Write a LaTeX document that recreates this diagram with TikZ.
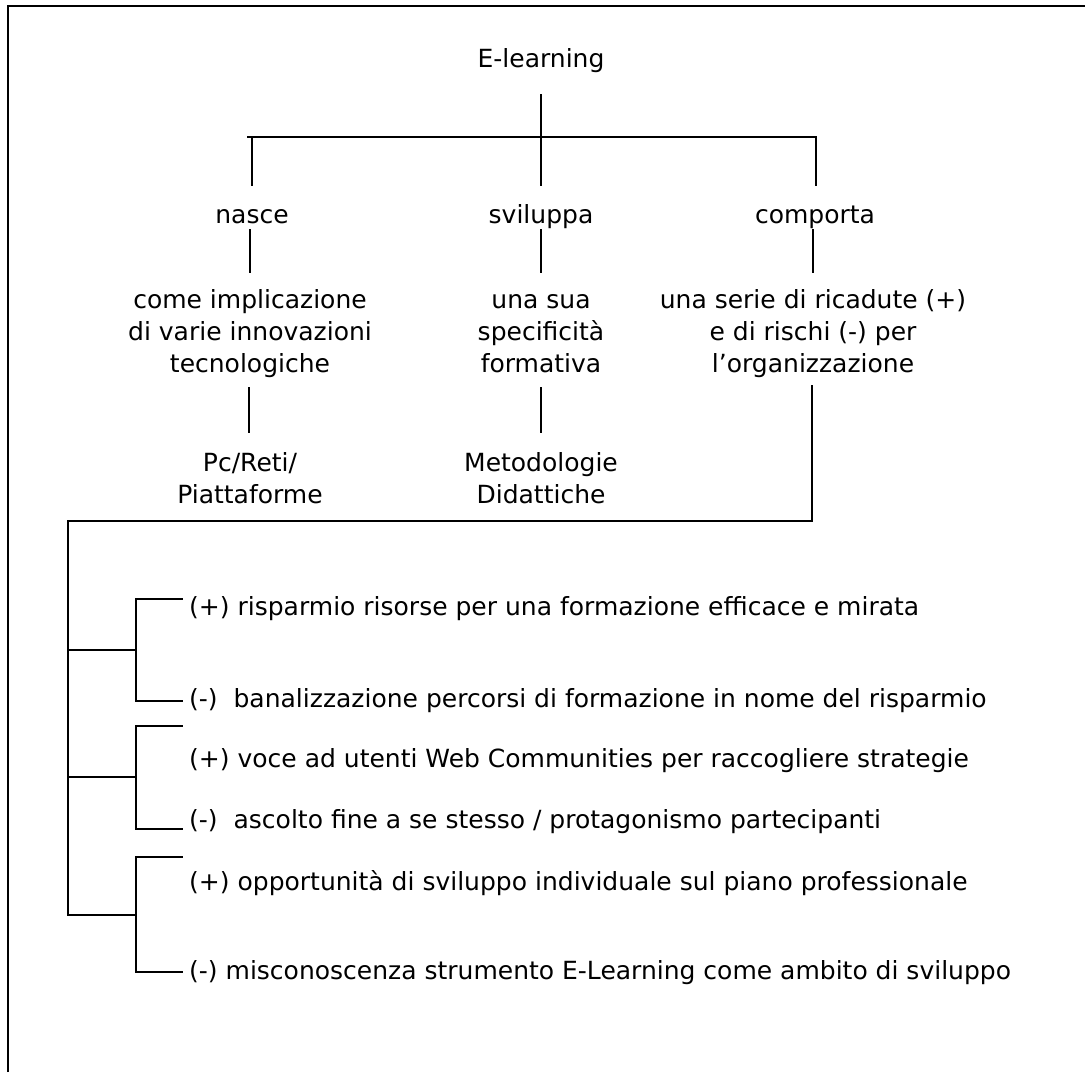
\documentclass[tikz,border=0pt]{standalone}
\usepackage{fontspec}
\setmainfont{DejaVu Sans}
\tikzset{
  lbl/.style={align=center, inner sep=0pt, anchor=base, font=\fontsize{25}{32}\selectfont},
  item/.style={anchor=base west, inner sep=0pt, font=\fontsize{25}{32}\selectfont},
  conn/.style={line width=1.3pt, line cap=rect},
  frame/.style={line width=2.2pt}
}
\begin{document}
\begin{tikzpicture}[x=1pt,y=-1pt]
\useasboundingbox (0,0) rectangle (1085,1072);
\draw[frame] (8,1072) -- (8,6) -- (1085,6);

% multi-line nodes are placed by the baseline of their last line
\node[lbl] (el) at (541,67) {E-learning};
\node[lbl] (nasce) at (252,223) {nasce};
\node[lbl] (svil) at (541,223) {sviluppa};
\node[lbl] (comp) at (815,223) {comporta};
\node[lbl] (n2) at (250,372) {come implicazione\\di varie innovazioni\\tecnologiche};
\node[lbl] (s2) at (541,372) {una sua\\specificità\\formativa};
\node[lbl] (c2) at (813,372) {una serie di ricadute (+)\\e di rischi (-) per\\l’organizzazione};
\node[lbl] (n3) at (250,503) {Pc/Reti/\\Piattaforme};
\node[lbl] (s3) at (541,503) {Metodologie\\Didattiche};

\coordinate (elb) at (541,95);
\coordinate (svt) at (541,185);
\coordinate (barL) at (248,137);
\coordinate (barR) at (815,137);
\coordinate (nat) at (252,185);
\coordinate (cot) at (816,185);
\draw[conn] (elb) -- (svt);
\draw[conn] (barL) -- (barR);
\draw[conn] (nat |- barL) -- (nat);
\draw[conn] (cot |- barR) -- (cot);

\draw[conn] (250,230) coordinate (nab) -- (250,272) coordinate (n2t);
\draw[conn] (541,230) coordinate (svb) -- (541,272) coordinate (s2t);
\draw[conn] (813,230) coordinate (cob) -- (813,272) coordinate (c2t);
\draw[conn] (249,388) coordinate (n2b) -- (249,432) coordinate (n3t);
\draw[conn] (541,388) coordinate (s2b) -- (541,432) coordinate (s3t);

\coordinate (c2b) at (812,386);
\coordinate (trunkTop) at (68,521);
\coordinate (trunkBot) at (68,915);
\draw[conn] (c2b) -- (c2b |- trunkTop) -- (trunkTop) -- (trunkBot);

\node[item] (p1) at (189,615) {(+) risparmio risorse per una formazione efficace e mirata};
\node[item] (m1) at (189,707) {(-)~~banalizzazione percorsi di formazione in nome del risparmio};
\node[item] (p2) at (189,767) {(+) voce ad utenti Web Communities per raccogliere strategie};
\node[item] (m2) at (189,828) {(-)~~ascolto fine a se stesso / protagonismo partecipanti};
\node[item] (p3) at (189,890) {(+) opportunità di sviluppo individuale sul piano professionale};
\node[item] (m3) at (189,979) {(-) misconoscenza strumento E-Learning come ambito di sviluppo};

% group 1
\draw[conn] (68,650) -- (136,650);
\draw[conn] (182,599) -- (136,599) -- (136,701) -- (182,701);
% group 2
\draw[conn] (68,777) -- (136,777);
\draw[conn] (182,726) -- (136,726) -- (136,829) -- (182,829);
% group 3
\draw[conn] (68,915) -- (136,915);
\draw[conn] (182,857) -- (136,857) -- (136,972) -- (182,972);
\end{tikzpicture}
\end{document}
